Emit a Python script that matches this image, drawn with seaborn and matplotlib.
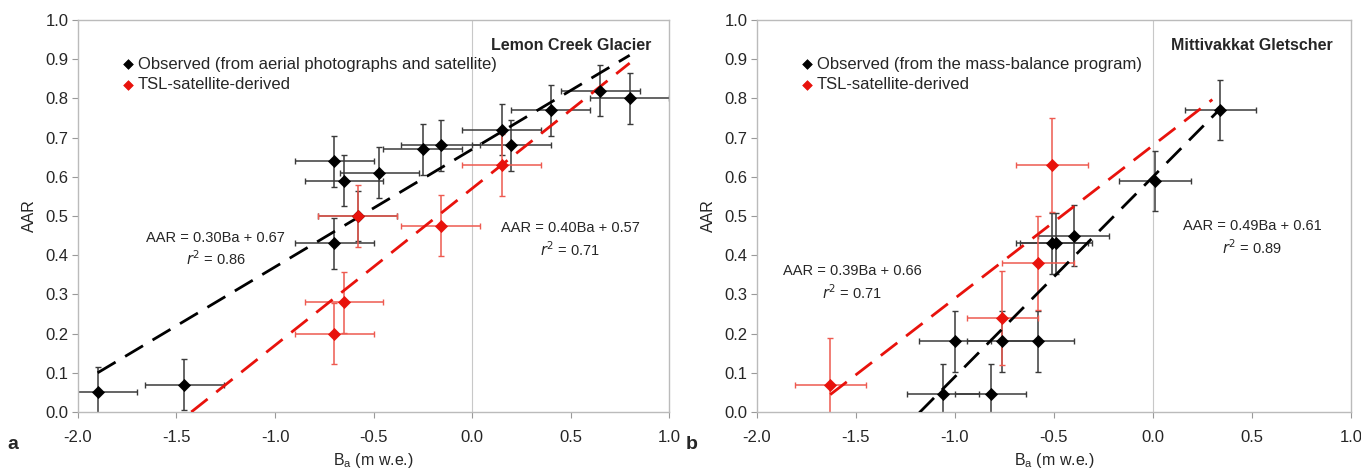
import numpy as np
import pandas as pd
import matplotlib.pyplot as plt
import seaborn as sns

sns.set_style('white')
plt.rcParams['font.family'] = ['Liberation Sans', 'DejaVu Sans']

# Panel a: Lemon Creek Glacier
a_obs_x = [-1.90, -1.46, -0.70, -0.65, -0.47, -0.25, -0.16, 0.15, 0.20, 0.40, 0.65, 0.80, -0.70, -0.58]
a_obs_y = [0.05, 0.07, 0.64, 0.59, 0.61, 0.67, 0.68, 0.72, 0.68, 0.77, 0.82, 0.80, 0.43, 0.50]
a_obs_xerr = 0.2
a_obs_yerr = 0.065
a_tsl_x = [-0.58, -0.16, 0.15, -0.65, -0.70]
a_tsl_y = [0.50, 0.475, 0.63, 0.28, 0.20]
a_tsl_xerr = 0.2
a_tsl_yerr = 0.078

# Panel b: Mittivakkat Gletscher
b_obs_x = [0.34, 0.01, -0.40, -0.51, -0.49, -1.00, -0.76, -0.58, -1.06, -0.82]
b_obs_y = [0.77, 0.59, 0.45, 0.43, 0.43, 0.18, 0.18, 0.18, 0.045, 0.045]
b_obs_xerr = 0.18
b_obs_yerr = 0.077
b_tsl_x = [-1.63, -0.51, -0.58, -0.76]
b_tsl_y = [0.07, 0.63, 0.38, 0.24]
b_tsl_xerr = 0.18
b_tsl_yerr = 0.12

# trendlines: slope, intercept, x range
a_obs_fit = (0.30, 0.67, [-1.90, 0.80])
a_tsl_fit = (0.40, 0.57, [-1.425, 0.80])
b_obs_fit = (0.51, 0.60, [-1.18, 0.34])
b_tsl_fit = (0.39, 0.68, [-1.63, 0.30])

BLACK = '#000000'
RED = '#e8120c'
BAR_BLACK = '#3a3a3a'
BAR_RED = '#ee5a50'


def draw_panel(ax, obs, tsl, fits, eqs, title, obs_label, letter):
    ox, oy, oxe, oye = obs
    tx, ty, txe, tye = tsl
    ax.errorbar(ox, oy, xerr=oxe, yerr=oye, fmt='none', ecolor=BAR_BLACK,
                elinewidth=1.1, capsize=2.5, capthick=1, zorder=2)
    ax.errorbar(tx, ty, xerr=txe, yerr=tye, fmt='none', ecolor=BAR_RED,
                elinewidth=1.1, capsize=2.5, capthick=1, zorder=2)
    for (m, c, xr), col in zip(fits, [BLACK, RED]):
        xs = np.array(xr)
        line = pd.DataFrame({'x': xs, 'y': m * xs + c})
        sns.lineplot(data=line, x='x', y='y', ax=ax, color=col, lw=2,
                     dashes=False, zorder=3).lines[-1].set_dashes([7.5, 4])
    sns.scatterplot(x=ox, y=oy, ax=ax, marker='D', s=38, color=BLACK,
                    edgecolor=BLACK, zorder=4, label=obs_label)
    sns.scatterplot(x=tx, y=ty, ax=ax, marker='D', s=38, color=RED,
                    edgecolor=RED, zorder=4, label='TSL-satellite-derived')

    ax.axvline(0, color='#c8c8c8', lw=0.8, zorder=0)
    ax.set_xlim(-2.0, 1.0)
    ax.set_ylim(0.0, 1.0)
    ax.set_xticks(np.arange(-2.0, 1.01, 0.5))
    ax.set_yticks(np.arange(0.0, 1.01, 0.1))
    ax.xaxis.set_major_formatter(plt.FormatStrFormatter('%.1f'))
    ax.yaxis.set_major_formatter(plt.FormatStrFormatter('%.1f'))
    ax.tick_params(axis='both', labelsize=12, length=4, width=0.8,
                   color='#999999', direction='out', pad=3,
                   bottom=True, left=True)
    ax.tick_params(axis='x', pad=9)
    for s in ax.spines.values():
        s.set_color('#bbbbbb')
        s.set_linewidth(1.0)
    ax.set_xlabel(r'B$_\mathregular{a}$ (m w.e.)', fontsize=11.5, labelpad=4)
    ax.set_ylabel('AAR', fontsize=11.5, labelpad=6)

    ax.text(0.97, 0.955, title, transform=ax.transAxes, ha='right', va='top',
            fontsize=11.5, fontweight='bold')
    for (ex, ey, m, c, r2) in eqs:
        ax.text(ex, ey, f'AAR = {m:.2f}Ba + {c:.2f}', ha='center', va='center',
                fontsize=10.5)
        ax.text(ex, ey - 0.055, f'$r^2$ = {r2:.2f}', ha='center', va='center',
                fontsize=10.5)
    ax.text(-0.12, -0.06, letter, transform=ax.transAxes, ha='left', va='top',
            fontsize=14, fontweight='bold')
    ax.legend(loc='upper left', bbox_to_anchor=(0.045, 0.945), frameon=False,
              fontsize=12, handletextpad=0.1, labelspacing=0.35,
              handlelength=1.0, markerscale=0.8)


fig = plt.figure(figsize=(13.61, 4.68), dpi=100)
ax1 = fig.add_axes([0.0573, 0.1197, 0.4343, 0.8376])
ax2 = fig.add_axes([0.5562, 0.1197, 0.4364, 0.8376])

draw_panel(ax1,
           (a_obs_x, a_obs_y, a_obs_xerr, a_obs_yerr),
           (a_tsl_x, a_tsl_y, a_tsl_xerr, a_tsl_yerr),
           [a_obs_fit, a_tsl_fit],
           [(-1.3, 0.445, 0.30, 0.67, 0.86), (0.5, 0.47, 0.40, 0.57, 0.71)],
           'Lemon Creek Glacier',
           'Observed (from aerial photographs and satellite)', 'a')
draw_panel(ax2,
           (b_obs_x, b_obs_y, b_obs_xerr, b_obs_yerr),
           (b_tsl_x, b_tsl_y, b_tsl_xerr, b_tsl_yerr),
           [b_obs_fit, b_tsl_fit],
           [(-1.52, 0.36, 0.39, 0.66, 0.71), (0.5, 0.475, 0.49, 0.61, 0.89)],
           'Mittivakkat Gletscher',
           'Observed (from the mass-balance program)', 'b')

fig.savefig('out.png', dpi=100)
